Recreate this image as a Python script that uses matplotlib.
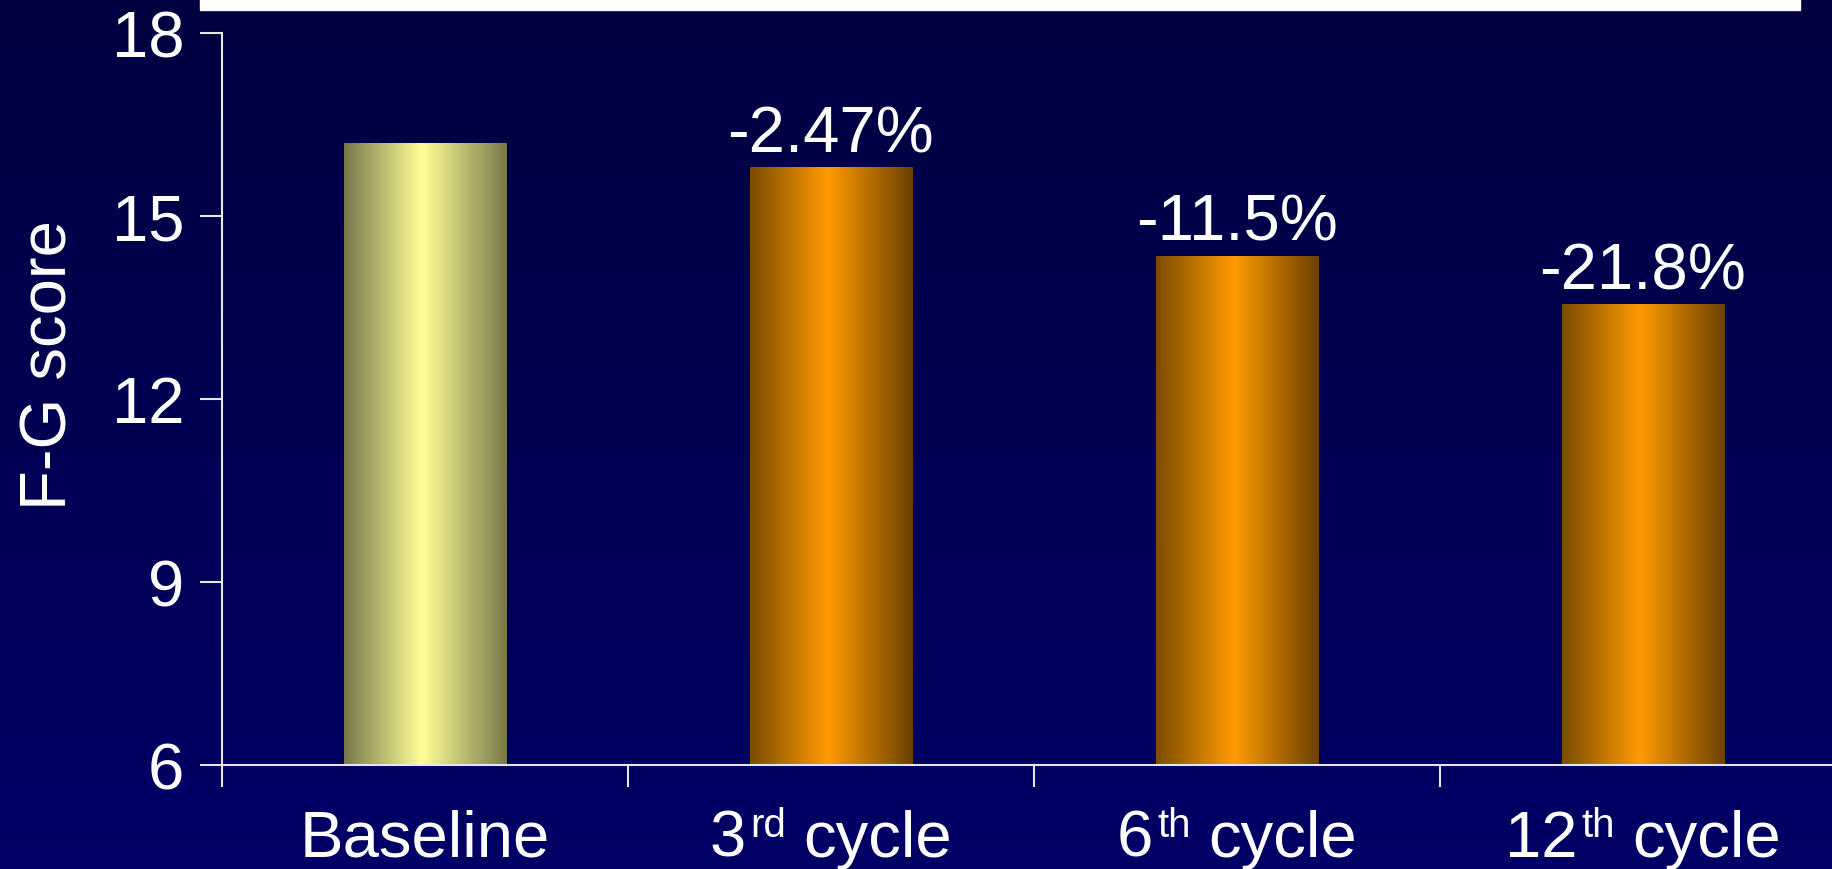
import numpy as np
import matplotlib
matplotlib.use("Agg")
import matplotlib.pyplot as plt
from matplotlib.colors import LinearSegmentedColormap
from matplotlib.patches import Rectangle
from matplotlib.transforms import IdentityTransform

# ---- data -------------------------------------------------------------
label_main = ["Baseline", "3", "6", "12"]
label_sup = ["", "rd", "th", "th"]
label_tail = ["", "cycle", "cycle", "cycle"]
scores = [16.2, 15.8, 14.35, 13.55]
changes = ["", "-2.47%", "-11.5%", "-21.8%"]
yticks = [6, 9, 12, 15, 18]
ylabel = "F-G score"

# ---- figure -----------------------------------------------------------
W, H, DPI = 1833, 870, 100
plt.rcParams["font.family"] = ["Liberation Sans", "DejaVu Sans"]
FS = 47
SUP_FS = 29
AXIS_COLOR = "#e6e6e6"

fig = plt.figure(figsize=(W / DPI, H / DPI), dpi=DPI)

# navy background, slightly lighter towards the bottom
bg = fig.add_axes([0, 0, 1, 1], zorder=-10)
grad = np.linspace(0, 1, 256).reshape(-1, 1)
bg_cmap = LinearSegmentedColormap.from_list("bg", ["#000040", "#000066"])
bg.imshow(grad, cmap=bg_cmap, aspect="auto", extent=[0, 1, 0, 1], origin="upper")
bg.add_patch(Rectangle((200 / W, 1 - 11 / H), 1600 / W, 11 / H, color="white"))
bg.set_xlim(0, 1)
bg.set_ylim(0, 1)
bg.set_axis_off()

ax = fig.add_axes([222 / W, 104 / H, 1624 / W, 732 / H])
ax.set_facecolor("none")

x = np.arange(len(scores))
bars = ax.bar(x, scores, width=0.4, color="none", edgecolor="none")

# cylinder-like horizontal shading for each bar
cm_base = LinearSegmentedColormap.from_list(
    "base", [(0, "#78784a"), (0.48, "#ffff99"), (1, "#78784a")])
cm_cycle = LinearSegmentedColormap.from_list(
    "cycle", [(0, "#7c4c00"), (0.48, "#ff9a00"), (1, "#6c4100")])
shade = np.linspace(0, 1, 256).reshape(1, -1)
for i, b in enumerate(bars):
    cmap = cm_base if i == 0 else cm_cycle
    x0 = b.get_x()
    im = ax.imshow(shade, cmap=cmap, aspect="auto", origin="lower",
                   extent=[x0, x0 + b.get_width(), yticks[0], b.get_height()],
                   zorder=2)
    im.set_clip_path(b)

ax.set_xlim(-0.5, 3.5)
ax.set_ylim(yticks[0], yticks[-1])

# percentage change above each treatment bar
for i, (s, c) in enumerate(zip(scores, changes)):
    if c:
        ax.annotate(c, xy=(i, s), xytext=(0, 11.5), textcoords="offset points",
                    ha="center", va="baseline", fontsize=FS, color="white")

# axes styling
for side in ("top", "right"):
    ax.spines[side].set_visible(False)
for side in ("left", "bottom"):
    ax.spines[side].set_color(AXIS_COLOR)
    ax.spines[side].set_linewidth(1.5)
    ax.spines[side].set_clip_on(False)

ax.set_yticks(yticks)
ax.tick_params(axis="y", direction="out", length=16, width=1.5,
               color=AXIS_COLOR, pad=11, labelsize=FS, labelcolor="white")
ax.set_xticks(np.arange(-0.5, 4.0, 1.0))
ax.set_xticklabels([])
ax.tick_params(axis="x", direction="out", length=16, width=1.5,
               color=AXIS_COLOR)

fig.text(67 / W, 1 - 365 / H, ylabel, rotation=90, rotation_mode="anchor",
         ha="center", va="baseline", fontsize=FS, color="white")

# category labels with superscript ordinals, centred under each bar
fig.canvas.draw()
renderer = fig.canvas.get_renderer()
base_y = 13
sup_rise = 19.5
gap_sup, gap_tail = 4, 18
for i in range(len(label_main)):
    pieces = []
    t_main = ax.text(0, base_y, label_main[i], transform=IdentityTransform(),
                     fontsize=FS, color="white", ha="left", va="baseline",
                     clip_on=False)
    pieces.append((t_main, 0, 0))
    if label_sup[i]:
        t_sup = ax.text(0, base_y + sup_rise, label_sup[i],
                        transform=IdentityTransform(), fontsize=SUP_FS,
                        color="white", ha="left", va="baseline", clip_on=False)
        pieces.append((t_sup, gap_sup, sup_rise))
    if label_tail[i]:
        t_tail = ax.text(0, base_y, label_tail[i], transform=IdentityTransform(),
                         fontsize=FS, color="white", ha="left", va="baseline",
                         clip_on=False)
        pieces.append((t_tail, gap_tail, 0))
    widths = [p[0].get_window_extent(renderer).width for p in pieces]
    total = sum(widths) + sum(p[1] for p in pieces)
    cx = ax.transData.transform((i, yticks[0]))[0]
    pos = cx - total / 2
    for (t, gap, rise), w in zip(pieces, widths):
        pos += gap
        t.set_position((pos, base_y + rise))
        pos += w

fig.savefig("out.png", dpi=DPI)
